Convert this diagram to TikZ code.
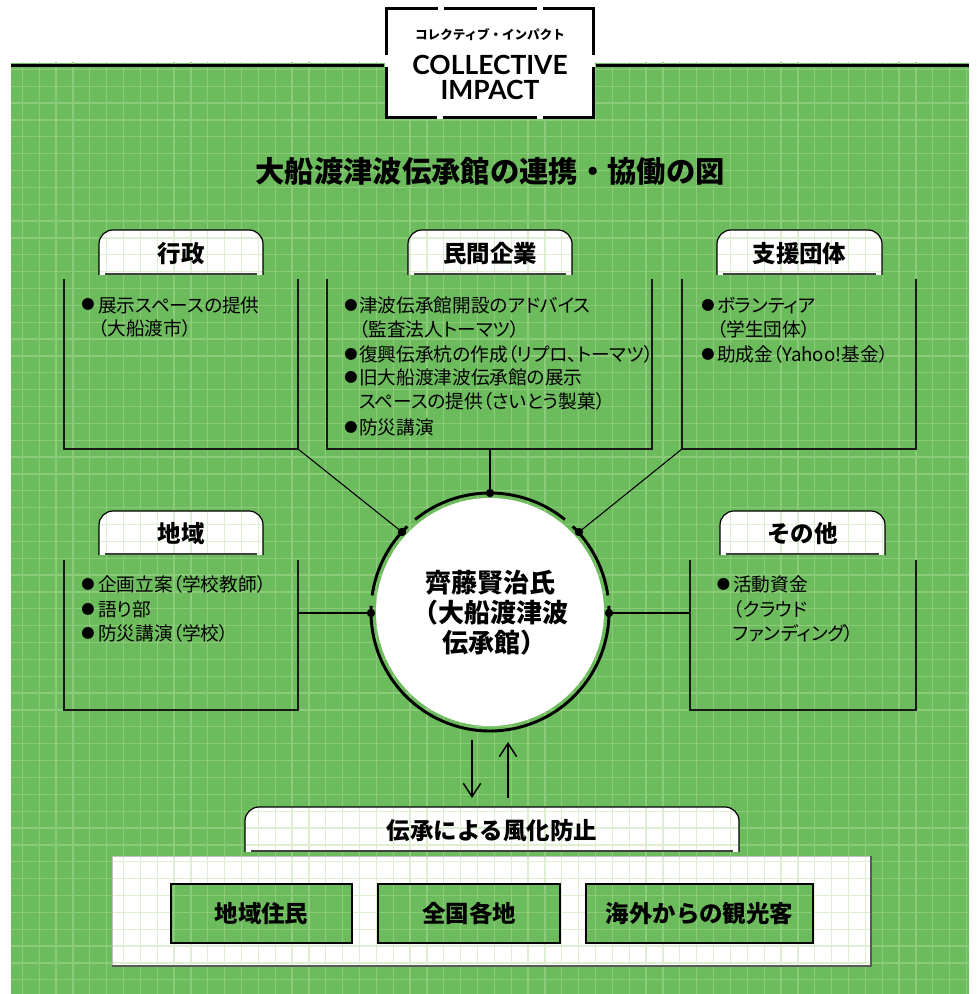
\documentclass[tikz,border=0pt]{standalone}
\usepackage{fontspec}
\usetikzlibrary{arrows.meta}
\newfontfamily\jp{Noto Sans CJK JP}
\newfontfamily\jpp{Noto Sans CJK JP}[RawFeature=+palt]
\newfontfamily\lato{Lato}
\definecolor{bg}{RGB}{108,187,92}
\definecolor{gridg}{RGB}{140,203,121}
\definecolor{gridw}{RGB}{221,238,211}
\newcommand\mygrid[1]{%
  \foreach \i in {0,...,56}{\draw[#1, line width=0.95pt] ({22.3+16.86*\i},50) -- ({22.3+16.86*\i},994);}%
  \foreach \j in {0,...,54}{\draw[#1, line width=0.95pt] (0,{69.3+16.86*\j}) -- (977,{69.3+16.86*\j});}}
\newcommand\mytab[6]{%
  \begin{scope}
    \clip[rounded corners=10.5pt] (#1,#4) -- (#1,#3) -- (#2,#3) -- (#2,#4);
    \fill[white] (#1,#3) rectangle (#2,#4);
    \mygrid{gridw}
  \end{scope}
  \draw[line width=0.9pt, rounded corners=10.5pt] (#1,#4) -- (#1,#3) -- (#2,#3) -- (#2,#4);
  \draw[line width=1.1pt, black!75] ({#1+6},{#4-1}) -- ({#2-6},{#4-1});
  \node[lab] (#5) at ({(#1+#2)/2},{(#3+#4)/2+1}) {#6};}
\begin{document}
\begin{tikzpicture}[x=0.75pt,y=-0.75pt,
  lab/.style={font=\jp\bfseries\fontsize{17.6}{20}\selectfont, inner sep=0pt},
  body/.style={font=\jpp\fontsize{14}{17}\selectfont, inner sep=0pt, anchor=base west},
  bul/.style={font=\jp\fontsize{10}{10}\selectfont, inner sep=0pt, anchor=center},
  ubox/.style={line width=1pt, black!90},
  conn/.style={line width=0.8pt, black},
  arr/.style={line width=1.1pt, -{Straight Barb[length=10pt,width=13pt,line width=1.1pt]}},
  gbox/.style={line width=0.9pt, black}]
\useasboundingbox (0,0) rectangle (977,994);
\fill[white] (0,0) rectangle (977,994);
% green background with grid
\begin{scope}
  \clip (11,63) rectangle (969,994);
  \fill[bg] (11,63) rectangle (969,994);
  \mygrid{gridg}
\end{scope}
\draw[line width=2pt] (11,65.3) -- (384,65.3);
\draw[line width=2pt] (596,65.3) -- (969,65.3);
% header box
\fill[white] (385,7) rectangle (595,119.3);
\begin{scope}[line width=2.3pt]
  \draw (385,8.5) -- (438.3,8.5); \draw (444,8.5) -- (536.7,8.5); \draw (542.7,8.5) -- (595,8.5);
  \draw (385,117.8) -- (436.7,117.8); \draw (442.7,117.8) -- (536.7,117.8); \draw (542.7,117.8) -- (595,117.8);
  \draw (386.5,7) -- (386.5,55); \draw (386.5,66.7) -- (386.5,119.3);
  \draw (593.4,7) -- (593.4,55); \draw (593.4,66.7) -- (593.4,119.3);
\end{scope}
\node[font=\jp\bfseries\fontsize{9.4}{11}\selectfont, inner sep=0pt] (cijp) at (490,35) {コレクティブ・インパクト};
\node[font=\lato\bfseries\fontsize{19.8}{22}\selectfont, inner sep=0pt] (ci1) at (490,64.5) {COLLECTIVE};
\node[font=\lato\bfseries\fontsize{19.8}{22}\selectfont, inner sep=0pt] (ci2) at (490,90) {IMPACT};
% title
\node[font=\jp\bfseries\fontsize{22}{26}\selectfont, inner sep=0pt] (title) at (490,171) {大船渡津波伝承館の連携・協働の図};
% tabs
\mytab{99}{263}{230}{275}{gyosei}{行政}
\mytab{408}{572}{230}{275}{minkan}{民間企業}
\mytab{717}{882}{230}{275}{shien}{支援団体}
\mytab{99}{263}{511}{555}{chiiki}{地域}
\mytab{720}{885}{511}{555}{sonota}{その他}
% open boxes
\draw[ubox] (64,279) |- (298,449) -- (298,279);
\draw[ubox] (327,279) |- (652,449) -- (652,279);
\draw[ubox] (682,279) |- (916,449) -- (916,279);
\draw[ubox] (64,560) |- (298,710) -- (298,560);
\draw[ubox] (690,560) |- (916,710) -- (916,560);
% box texts
\node[bul] (bA1) at (88,304.5) {●};
\node[body] (tA1) at (98,312.1) {展示スペースの提供};
\node[body] (tA2) at (98,335.5) {（大船渡市）};
\node[bul] (bB1) at (351,305) {●};
\node[body] (tB1) at (359,312.1) {津波伝承館開設のアドバイス};
\node[body] (tB2) at (359,336.1) {（監査法人トーマツ）};
\node[bul] (bB2) at (351,354) {●};
\node[body] (tB3) at (359,361.1) {復興伝承杭の作成（リプロ、トーマツ）};
\node[bul] (bB3) at (351,377.5) {●};
\node[body] (tB4) at (359,384.6) {旧大船渡津波伝承館の展示};
\node[body] (tB5) at (359,408.8) {スペースの提供（さいとう製菓）};
\node[bul] (bB4) at (351,427) {●};
\node[body] (tB6) at (359,434.1) {防災講演};
\node[bul] (bC1) at (708,305) {●};
\node[body] (tC1) at (717,312.1) {ボランティア};
\node[body] (tC2) at (717,336.1) {（学生団体）};
\node[bul] (bC2) at (708,354) {●};
\node[body] (tC3) at (717,361.1) {助成金（Yahoo!基金）};
\node[bul] (bD1) at (88,584) {●};
\node[body] (tD1) at (98,591.1) {企画立案（学校教師）};
\node[bul] (bD2) at (88,609) {●};
\node[body] (tD2) at (98,616.1) {語り部};
\node[bul] (bD3) at (88,633) {●};
\node[body] (tD3) at (98,640.1) {防災講演（学校）};
\node[bul] (bE1) at (723.5,584) {●};
\node[body] (tE1) at (733,591.1) {活動資金};
\node[body] (tE2) at (733,616.1) {（クラウド};
\node[body] (tE3) at (733,640.1) {ファンディング）};
% central circle
\fill[white] (490,612) circle[radius=114];
\begin{scope}[line width=2.2pt]
  \draw plot[domain=8:46, samples=30] ({490+119*cos(\x)},{612-119*sin(\x)});
  \draw plot[domain=51:129, samples=50] ({490+119*cos(\x)},{612-119*sin(\x)});
  \draw plot[domain=134:172, samples=30] ({490+119*cos(\x)},{612-119*sin(\x)});
  \draw plot[domain=177:363, samples=120] ({490+119*cos(\x)},{612-119*sin(\x)});
\end{scope}
\node[align=center, font=\jp\bfseries\fontsize{19.5}{22.5}\selectfont, inner sep=0pt] (saito) at (490,613) {齊藤賢治氏\\（大船渡津波\\\hspace*{0.35em}伝承館）};
% connection points
\coordinate (dT) at (490,493);
\coordinate (dUL) at (402,532);
\coordinate (dUR) at (579,532);
\coordinate (dL) at (371,613);
\coordinate (dR) at (609,613);
\coordinate (cA) at (298,449);
\coordinate (cB) at (490,449);
\coordinate (cC) at (682,449);
\coordinate (cD) at (298,613);
\coordinate (cE) at (690,613);
\draw[conn] (cA) -- (dUL);
\draw[conn] (cB) -- (dT);
\draw[conn] (cC) -- (dUR);
\draw[conn] (cD) -- (dL);
\draw[conn] (cE) -- (dR);
\foreach \p in {dT,dUL,dUR,dL,dR}{\fill (\p) circle[radius=4.2];}
% arrows
\coordinate (a1s) at (472,740);
\coordinate (a1e) at (472,798);
\coordinate (a2s) at (508,798);
\coordinate (a2e) at (508,742);
\draw[arr] (a1s) -- (a1e);
\draw[arr] (a2s) -- (a2e);
% bottom panel
\begin{scope}
  \clip (112,856) rectangle (871,966);
  \fill[white] (112,856) rectangle (871,966);
  \mygrid{gridw}
\end{scope}
\draw[black!25, line width=0.6pt] (112,966) -- (112,856) -- (871,856);
\draw[black!65, line width=0.9pt] (112,966) -- (871,966) -- (871,856);
\mytab{245}{739}{807}{852}{fuka}{伝承による風化防止}
% three green boxes
\foreach \a/\b in {171/352,378/560,586/813}{
  \begin{scope}
    \clip (\a,884) rectangle (\b,943);
    \fill[bg] (\a,884) rectangle (\b,943);
    \mygrid{gridg}
  \end{scope}
  \draw[gbox] (\a,884) rectangle (\b,943);
}
\node[lab] (g1) at (261.5,913.5) {地域住民};
\node[lab] (g2) at (469,913.5) {全国各地};
\node[lab] (g3) at (699.5,913.5) {海外からの観光客};
\end{tikzpicture}
\end{document}
